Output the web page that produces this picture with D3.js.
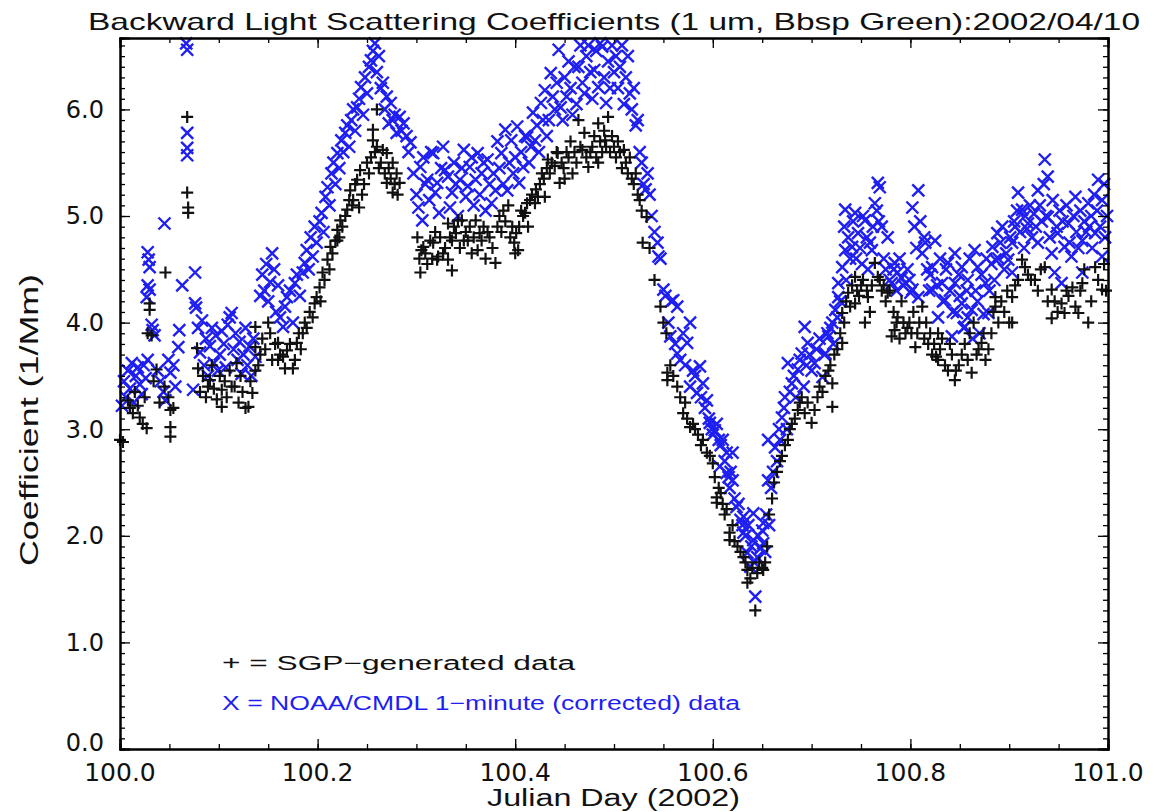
<!DOCTYPE html>
<html>
<head>
<meta charset="utf-8">
<script src="https://cdn.jsdelivr.net/npm/d3@7"></script>
<style>
  body { margin: 0; background: #fff; }
  svg text { font-family: "Liberation Sans", Arial, sans-serif; }
</style>
</head>
<body>
<div class="bbsp_chart"></div>
<script>

// day offsets from 100.0, coefficient in 1/Mm
var noaaPoints = [
  [0.002,3.22],[0.004,3.45],[0.006,3.3],[0.008,3.55],[0.010,3.38],[0.012,3.62],[0.014,3.25],[0.016,3.5],[0.018,3.58],[0.020,3.42],
  [0.022,3.33],[0.024,3.6],[0.026,3.48],[0.028,3.65],[0.028,4.66],[0.029,4.59],[0.030,4.52],[0.028,4.35],[0.030,4.31],[0.027,4.24],
  [0.033,3.93],[0.035,3.88],[0.032,3.98],[0.045,4.93],[0.038,3.55],[0.041,3.45],[0.044,3.35],[0.046,3.27],[0.049,3.65],[0.051,3.53],
  [0.054,3.6],[0.056,3.4],[0.060,3.93],[0.059,3.77],[0.063,4.35],[0.067,6.62],[0.068,6.56],[0.068,5.78],[0.068,5.64],[0.068,5.57],
  [0.074,3.37],[0.076,4.47],[0.076,4.18],[0.077,4.14],
  [0.079,3.95],[0.081,3.72],[0.083,4.02],[0.085,3.6],[0.087,3.85],[0.089,3.5],[0.091,3.78],[0.093,3.95],[0.095,3.62],[0.097,3.88],
  [0.099,3.55],[0.101,3.7],[0.103,3.92],[0.105,3.8],[0.107,3.58],[0.109,3.98],[0.111,4.05],[0.113,4.09],[0.115,3.75],[0.117,3.9],
  [0.119,3.65],[0.121,3.82],[0.123,3.52],[0.125,3.7],[0.127,3.95],[0.129,3.6],[0.131,3.78],[0.133,3.5],[0.135,3.85],[0.137,3.68],
  [0.142,4.25],[0.144,4.45],[0.146,4.3],[0.148,4.55],[0.150,4.2],[0.152,4.38],[0.154,4.65],[0.156,4.5],[0.158,4.1],[0.160,4.35],
  [0.162,4.05],[0.165,3.96],[0.167,4.15],[0.169,4.24],[0.172,4.3],[0.175,4.0],[0.177,4.37],[0.179,4.45],[0.182,4.25],[0.185,4.47],
  [0.187,4.56],[0.189,4.68],[0.191,4.5],[0.193,4.8],[0.195,4.62],[0.197,4.9],[0.199,4.75],[0.202,4.95],[0.204,5.03],[0.206,4.85],
  [0.208,5.18],[0.210,5.27],[0.212,5.1],[0.214,5.4],[0.216,5.5],[0.218,5.3],[0.220,5.59],[0.222,5.45],[0.224,5.71],[0.226,5.6],
  [0.228,5.78],[0.230,5.85],[0.232,5.65],[0.234,5.9],[0.236,6.0],[0.238,5.8],[0.240,6.02],[0.242,6.1],[0.244,6.21],[0.246,5.95],
  [0.248,6.3],[0.250,6.15],[0.252,6.4],[0.254,6.46],[0.256,6.55],[0.258,6.62],[0.260,6.35],[0.262,6.5],
  [0.264,6.2],[0.266,6.25],[0.268,6.0],[0.270,6.12],[0.272,5.87],[0.274,6.06],[0.276,5.9],[0.278,5.95],[0.280,5.78],[0.283,5.93],
  [0.285,5.8],[0.287,5.87],[0.290,5.75],[0.292,5.6],[0.294,5.69],[0.297,5.4],
  [0.300,5.2],[0.302,5.08],[0.304,5.46],[0.306,4.96],[0.307,5.55],[0.309,5.3],[0.311,5.34],[0.313,5.15],[0.315,5.6],[0.317,5.59],
  [0.319,5.22],[0.321,5.31],[0.323,5.03],[0.325,5.45],[0.327,5.65],[0.329,5.43],
  [0.332,5.37],[0.334,5.08],[0.336,5.22],[0.338,5.5],[0.340,5.3],[0.342,5.0],[0.344,5.34],[0.346,5.45],[0.348,5.62],[0.350,5.18],
  [0.352,5.28],[0.354,5.46],[0.356,5.55],[0.358,5.1],[0.360,5.34],[0.362,5.59],[0.364,5.2],[0.366,5.4],[0.368,5.5],[0.370,5.05],
  [0.372,5.53],[0.374,5.3],[0.376,5.12],[0.378,5.4],[0.380,5.24],[0.382,5.7],[0.384,5.45],[0.386,5.59],[0.388,5.3],[0.390,5.81],
  [0.392,5.24],[0.394,5.5],[0.396,5.71],[0.398,5.4],[0.400,5.55],
  [0.402,5.84],[0.404,5.31],[0.406,5.6],[0.408,5.46],[0.410,5.75],[0.412,5.74],[0.414,5.5],[0.416,5.65],[0.418,5.97],[0.420,5.71],
  [0.422,5.85],[0.424,5.6],[0.426,6.06],[0.428,5.9],[0.430,6.18],[0.432,5.75],[0.434,5.9],[0.436,6.34],[0.438,6.12],[0.440,6.0],
  [0.442,6.25],[0.444,6.56],[0.446,6.02],[0.448,5.9],
  [0.450,6.3],[0.452,6.12],[0.454,6.45],[0.456,6.2],[0.458,5.95],[0.460,6.4],[0.462,6.05],[0.464,6.4],[0.466,6.6],[0.468,6.25],
  [0.470,6.15],[0.472,6.5],[0.474,6.6],[0.476,6.35],[0.478,6.1],[0.480,6.37],[0.482,6.55],[0.484,6.21],[0.486,6.62],[0.488,6.59],
  [0.490,6.3],[0.492,6.06],[0.494,6.45],[0.496,6.2],[0.498,6.6],[0.500,6.35],[0.502,6.5],[0.504,6.2],[0.506,6.4],[0.508,6.6],
  [0.510,6.05],[0.512,6.3],[0.514,6.5],[0.516,6.15],[0.518,6.0],[0.520,6.2],[0.522,5.85],[0.524,5.9],[0.526,5.6],[0.528,5.5],
  [0.530,5.3],[0.532,5.25],[0.534,5.4],[0.536,5.2],[0.538,5.0],
  [0.541,4.85],[0.544,4.75],[0.545,4.62],[0.547,4.6],[0.550,4.31],[0.552,4.25],[0.555,4.0],[0.557,3.87],[0.558,4.2],[0.560,4.21],
  [0.562,3.8],[0.564,4.15],[0.564,3.71],[0.567,3.65],[0.570,3.9],[0.572,3.6],[0.574,3.81],[0.577,4.0],[0.577,3.4],[0.580,3.55],
  [0.582,3.5],[0.584,3.34],[0.587,3.59],[0.588,3.3],[0.590,3.43],[0.592,3.2],[0.594,3.27],[0.596,3.1],[0.597,3.06],[0.599,3.0],
  [0.600,2.95],[0.602,2.99],[0.604,3.05],[0.606,2.9],[0.607,2.65],[0.608,2.85],[0.610,2.9],[0.612,2.7],[0.614,2.78],[0.614,2.59],
  [0.616,2.55],[0.617,2.45],[0.618,2.6],[0.620,2.52],[0.620,2.78],[0.622,2.35],[0.624,2.27],[0.626,2.3],[0.628,2.15],[0.630,2.1],
  [0.631,2.18],[0.631,2.03],[0.633,2.0],[0.635,1.84],[0.636,2.1],[0.638,1.71],[0.639,1.9],[0.641,2.21],[0.641,1.96],[0.642,1.75],
  [0.643,1.43],[0.645,1.8],[0.646,2.0],[0.648,1.88],[0.650,2.05],[0.651,2.12],[0.651,1.93],[0.653,1.85],[0.654,2.2],[0.656,2.52],
  [0.656,2.9],[0.657,2.1],[0.659,2.45],
  [0.661,2.6],[0.663,2.83],[0.665,2.7],[0.667,3.0],[0.668,2.9],[0.670,3.11],[0.672,3.2],[0.673,3.3],[0.675,3.0],[0.676,3.62],
  [0.678,3.35],[0.680,3.43],[0.682,3.5],[0.684,3.3],[0.686,3.56],[0.688,3.65],[0.690,3.71],[0.692,3.4],[0.693,3.96],[0.695,3.6],
  [0.696,3.81],[0.698,3.7],[0.700,3.55],[0.703,3.62],[0.705,3.75],[0.708,3.85],[0.711,3.49],[0.713,3.7],[0.714,3.71],[0.716,3.9],
  [0.717,3.87],[0.719,3.95],[0.721,4.0],[0.722,3.8],[0.724,4.12],[0.726,4.05],[0.727,4.24],[0.727,4.37],[0.729,4.2],[0.731,4.52],
  [0.733,4.9],[0.734,4.68],[0.734,5.06],[0.735,4.4],[0.737,4.8],[0.739,4.6],[0.741,4.71],[0.742,4.95],[0.744,5.03],[0.745,4.6],
  [0.747,4.84],[0.749,4.7],[0.751,4.55],[0.752,5.0],[0.754,4.96],[0.756,4.8],[0.757,4.5],[0.759,4.75],[0.761,4.68],[0.762,4.9],
  [0.764,5.12],[0.766,5.05],[0.767,5.31],[0.768,4.95],[0.769,5.27],[0.771,4.9],[0.773,4.6],[0.775,4.5],[0.777,4.8],[0.779,4.4],
  [0.781,4.37],[0.783,4.5],[0.784,4.56],[0.786,4.3],[0.787,4.47],[0.789,4.6],[0.791,4.42],[0.793,4.35],[0.795,4.37],[0.797,4.5],
  [0.799,4.4],[0.800,4.28],[0.802,4.31],[0.802,5.08],[0.804,4.9],[0.806,4.7],[0.808,5.24],[0.808,4.24],[0.810,4.95],[0.812,4.65],
  [0.814,4.8],[0.815,4.75],[0.817,4.5],[0.819,4.3],[0.820,4.45],[0.822,4.52],[0.822,4.31],
  [0.825,4.77],[0.827,4.35],[0.828,4.05],[0.830,4.6],[0.832,4.37],[0.833,4.2],[0.835,4.21],[0.836,4.5],[0.838,4.56],[0.840,4.3],
  [0.842,3.87],[0.843,4.1],[0.845,4.65],[0.845,4.37],[0.847,4.09],[0.849,4.45],[0.850,4.25],[0.852,4.52],[0.852,4.18],[0.854,3.95],
  [0.855,3.96],[0.857,4.3],[0.858,4.4],[0.858,4.05],[0.860,4.6],[0.862,4.12],[0.863,3.85],[0.865,4.68],[0.866,4.3],[0.868,4.52],
  [0.868,4.2],[0.870,3.9],[0.872,4.45],[0.874,4.08],[0.876,4.37],[0.877,4.6],[0.879,4.09],[0.880,4.3],[0.882,4.55],[0.883,4.71],
  [0.885,4.4],[0.886,4.59],[0.888,4.84],[0.889,4.6],
  [0.891,4.75],[0.893,4.9],[0.895,4.5],[0.897,4.65],[0.899,4.59],[0.901,4.8],[0.903,4.75],[0.903,4.47],[0.905,4.95],[0.906,4.9],
  [0.908,5.05],[0.909,5.22],[0.911,4.85],[0.913,5.06],[0.915,4.7],[0.916,5.0],[0.918,4.88],[0.919,4.93],[0.921,5.1],[0.923,4.8],
  [0.925,5.02],[0.927,4.9],[0.929,5.24],[0.929,4.75],[0.931,5.1],[0.933,4.95],[0.935,5.3],[0.936,5.53],[0.937,5.0],[0.939,5.37],
  [0.939,4.99],[0.941,4.8],[0.943,4.65],[0.944,5.15],[0.946,4.47],[0.948,4.9],[0.949,4.84],[0.951,5.05],[0.953,4.37],[0.954,4.95],
  [0.956,4.71],[0.958,5.1],[0.960,4.93],[0.961,4.75],[0.963,4.62],[0.965,5.0],[0.967,5.18],[0.968,4.85],[0.970,4.7],[0.972,5.05],
  [0.974,4.77],[0.974,4.47],[0.976,4.95],[0.978,4.85],[0.980,5.12],[0.981,4.9],[0.983,5.0],[0.984,4.7],[0.986,5.2],[0.987,4.84],
  [0.989,5.05],[0.990,5.34],[0.992,4.9],[0.994,5.15],[0.994,4.62],[0.996,5.3],[0.997,4.8],[0.999,5.0]
];

var sgpPoints = [
  [0.000,2.9],[0.003,2.88],[0.008,3.27],[0.010,3.2],[0.013,3.15],[0.015,3.35],[0.018,3.22],[0.020,3.11],[0.023,3.05],[0.025,3.3],
  [0.027,3.01],[0.028,3.9],[0.030,4.18],[0.030,4.12],[0.032,3.88],[0.034,3.45],[0.037,3.56],[0.040,3.25],[0.045,3.4],[0.046,4.47],
  [0.049,3.3],[0.051,3.18],[0.051,3.02],[0.051,2.93],[0.054,3.2],[0.068,5.93],[0.068,5.22],[0.069,5.08],[0.069,5.03],[0.078,3.76],
  [0.079,3.57],
  [0.081,3.35],[0.084,3.5],[0.087,3.3],[0.089,3.4],[0.091,3.46],[0.093,3.6],[0.095,3.38],[0.098,3.28],[0.101,3.5],[0.103,3.37],
  [0.103,3.21],[0.106,3.45],[0.108,3.3],[0.111,3.55],[0.113,3.4],[0.116,3.4],[0.118,3.62],[0.120,3.25],[0.122,3.5],[0.124,3.35],
  [0.127,3.2],[0.130,3.21],[0.132,3.45],[0.134,3.34],[0.137,3.55],[0.137,3.96],[0.137,3.77],[0.140,3.6],
  [0.142,3.7],[0.144,3.85],[0.147,3.75],[0.150,4.0],[0.152,3.9],[0.154,3.65],[0.157,3.8],[0.160,3.81],[0.160,3.65],[0.162,3.7],
  [0.165,3.68],[0.167,3.57],[0.169,3.74],[0.172,3.8],[0.175,3.57],[0.177,3.65],[0.179,3.81],[0.181,3.9],[0.183,3.75],[0.185,3.9],
  [0.187,4.0],[0.189,3.95],[0.192,4.1],[0.195,4.05],[0.197,4.18],[0.199,4.24],[0.202,4.33],[0.203,4.2],[0.205,4.47],[0.207,4.4],
  [0.210,4.59],[0.212,4.5],[0.213,4.71],[0.215,4.65],[0.218,4.77],[0.220,4.87],[0.220,4.77],[0.222,4.8],[0.223,4.96],[0.225,4.9],
  [0.228,5.0],[0.230,5.06],[0.232,5.15],[0.233,5.24],[0.235,5.1],[0.236,5.15],[0.238,5.3],[0.240,5.34],[0.242,5.08],[0.243,5.43],
  [0.245,5.2],[0.247,5.3],[0.250,5.5],[0.252,5.4],[0.254,5.55],[0.256,5.81],[0.256,5.71],[0.258,5.6],[0.260,6.0],[0.260,5.65],
  [0.262,5.45],[0.264,5.5],[0.266,5.62],[0.268,5.4],[0.270,5.59],[0.270,5.31],[0.272,5.45],[0.274,5.35],[0.276,5.5],[0.276,5.22],
  [0.278,5.3],[0.280,5.4],[0.281,5.2],[0.283,5.31],
  [0.301,4.8],[0.303,4.6],[0.304,4.47],[0.305,4.68],[0.307,4.71],[0.309,4.65],[0.311,4.55],[0.314,4.77],[0.316,4.6],[0.317,4.75],
  [0.319,4.85],[0.321,4.59],[0.322,4.62],[0.324,4.8],[0.327,4.65],[0.329,4.7],
  [0.332,4.93],[0.332,4.59],[0.334,4.8],[0.336,4.77],[0.336,4.49],[0.338,4.9],[0.340,4.84],[0.342,4.96],[0.344,4.7],[0.346,4.96],
  [0.348,4.77],[0.350,4.85],[0.352,4.77],[0.354,4.9],[0.356,4.65],[0.358,4.8],[0.360,4.96],[0.362,4.68],[0.364,4.84],[0.366,4.77],
  [0.368,4.9],[0.370,4.6],[0.372,4.85],[0.374,4.8],[0.377,4.7],[0.380,4.56],[0.382,4.9],[0.384,5.0],[0.386,4.85],[0.388,5.05],
  [0.390,4.95],[0.393,5.1],[0.395,4.8],[0.397,4.9],[0.399,4.75],[0.400,4.65],[0.401,4.84],[0.403,4.68],[0.404,4.9],[0.406,5.05],
  [0.408,5.0],[0.410,5.03],[0.412,5.12],[0.413,4.9],[0.415,5.15],[0.417,5.2],[0.420,5.12],[0.421,5.25],[0.423,5.18],[0.425,5.3],
  [0.427,5.4],[0.429,5.35],[0.430,5.18],[0.432,5.45],[0.433,5.53],[0.435,5.4],[0.437,5.5],[0.440,5.47],[0.442,5.6],[0.443,5.59],
  [0.445,5.31],[0.447,5.5],[0.449,5.45],[0.450,5.35],[0.452,5.6],[0.454,5.55],[0.456,5.7],[0.458,5.4],[0.460,5.6],[0.462,5.5],
  [0.464,5.9],[0.466,5.65],[0.468,5.62],[0.470,5.78],[0.472,5.55],[0.474,5.46],[0.476,5.6],[0.478,5.65],[0.480,5.75],[0.482,5.55],
  [0.484,5.87],[0.484,5.5],[0.486,5.7],[0.488,5.6],[0.490,5.8],[0.491,5.71],[0.492,5.65],[0.494,5.93],[0.496,5.6],[0.498,5.75],
  [0.500,5.65],[0.502,5.55],[0.504,5.7],[0.506,5.6],[0.508,5.45],[0.510,5.62],[0.512,5.5],[0.514,5.4],[0.516,5.55],[0.518,5.35],
  [0.520,5.3],[0.522,5.4],[0.524,5.2],[0.526,5.15],[0.528,5.05],
  [0.529,4.75],[0.533,4.99],[0.536,4.7],[0.541,4.4],[0.547,4.15],[0.550,4.0],[0.553,3.9],[0.554,3.53],[0.554,3.46],[0.557,3.6],
  [0.560,3.5],[0.564,3.4],[0.567,3.3],[0.570,3.15],[0.572,3.25],[0.574,3.1],[0.577,3.02],[0.580,3.05],[0.582,3.0],[0.585,2.95],
  [0.588,2.85],[0.590,2.9],[0.594,2.78],[0.597,2.75],[0.600,2.68],[0.602,2.55],[0.604,2.36],[0.604,2.31],[0.606,2.45],[0.608,2.4],
  [0.610,2.3],[0.612,2.2],[0.614,2.25],[0.617,2.03],[0.617,1.96],[0.620,2.1],[0.622,1.95],[0.625,1.9],[0.628,1.85],[0.631,1.8],
  [0.633,1.75],[0.635,1.68],[0.635,1.56],[0.638,1.6],[0.640,1.7],[0.643,1.3],[0.645,1.65],[0.647,1.75],[0.650,1.7],[0.651,1.68],
  [0.653,1.75],[0.655,1.9],[0.657,2.2],[0.660,2.35],[0.662,2.5],[0.665,2.6],[0.668,2.7],[0.670,2.75],[0.673,2.85],[0.676,2.9],
  [0.678,3.0],[0.680,3.05],[0.683,3.1],[0.686,3.18],[0.688,3.25],[0.690,3.3],[0.693,3.15],[0.696,3.25],[0.700,3.06],[0.703,3.18],
  [0.706,3.3],[0.708,3.4],[0.711,3.35],[0.714,3.5],[0.717,3.55],[0.719,3.6],[0.721,3.21],[0.721,3.43],[0.723,3.7],[0.726,3.75],
  [0.729,3.9],[0.731,3.81],[0.731,4.09],[0.733,4.0],[0.735,4.2],[0.737,4.28],[0.739,4.15],[0.741,4.35],[0.744,4.43],[0.744,4.18],
  [0.746,4.3],[0.748,4.25],[0.750,4.35],[0.752,4.4],[0.754,4.0],[0.756,4.3],[0.757,4.24],[0.759,4.1],[0.761,4.35],[0.764,4.56],
  [0.767,4.43],[0.769,4.4],[0.771,4.3],[0.773,4.35],[0.775,4.2],[0.777,4.28],[0.779,4.3],[0.781,3.87],[0.783,4.1],[0.784,3.93],
  [0.786,4.0],[0.787,4.05],[0.789,3.85],[0.791,4.2],[0.793,4.0],[0.795,3.9],[0.797,3.95],[0.799,4.0],[0.801,3.9],[0.803,4.1],
  [0.805,3.77],[0.807,3.9],[0.809,4.0],[0.812,4.15],[0.814,3.85],[0.816,4.0],[0.818,3.8],[0.820,3.9],[0.822,3.7],[0.824,3.8],
  [0.826,3.68],[0.828,3.9],[0.828,3.65],[0.830,3.75],[0.832,3.85],[0.835,3.6],[0.838,3.55],[0.840,3.8],[0.842,3.7],[0.845,3.46],
  [0.846,3.55],[0.849,3.6],[0.852,3.7],[0.855,3.8],[0.858,3.65],[0.860,3.9],[0.862,3.53],[0.864,4.0],[0.867,3.7],[0.869,3.75],
  [0.872,3.81],[0.874,3.9],[0.876,3.65],[0.879,3.75],[0.882,3.9],[0.884,4.1],[0.886,4.24],[0.886,4.15],[0.889,4.0],[0.892,4.2],
  [0.895,4.1],[0.898,4.3],[0.900,4.0],[0.903,4.24],[0.903,4.0],[0.906,4.35],[0.909,4.4],[0.913,4.59],[0.916,4.52],[0.919,4.45],
  [0.922,4.4],[0.926,4.4],[0.929,4.3],[0.932,4.5],[0.936,4.52],[0.939,4.2],[0.943,4.31],[0.943,4.04],[0.946,4.2],[0.949,4.1],
  [0.953,4.18],[0.956,4.09],[0.958,4.3],[0.960,4.25],[0.964,4.33],[0.967,4.15],[0.970,4.09],[0.972,4.3],[0.974,4.37],[0.976,4.5],
  [0.980,4.0],[0.983,4.2],[0.987,4.52],[0.990,4.4],[0.994,4.31],[0.996,4.55],[0.998,4.3]
];

var dayStart = 100.0;
var xTickValues = [100.0, 100.2, 100.4, 100.6, 100.8, 101.0];
var yTickValues = [0, 1, 2, 3, 4, 5, 6];

var chartTitle = "Backward Light Scattering Coefficients (1 um, Bbsp Green):2002/04/10";
var xTitle = "Julian Day (2002)";
var yTitle = "Coefficient (1/Mm)";
var legendSgp = "+ = SGP\u2212generated data";
var legendNoaa = "X = NOAA/CMDL 1\u2212minute (corrected) data";


function drawBbspChart(target) {

    var div_width = 1153;
    var div_height = 812;
    var left = 120, right = 1108, top = 38, bottom = 749;
    var blue = "#1f1ff2";

    var svg = d3.select(target).append("svg")
        .attr("width", div_width)
        .attr("height", div_height);

    var x = d3.scaleLinear().domain([100.0, 101.0]).range([left, right]);
    var y = d3.scaleLinear().domain([0, 6.67]).range([bottom, top]);

    // data first, frame on top
    var plot = svg.append("g");

    plot.selectAll(".noaa").data(noaaPoints).enter().append("path")
        .attr("class", "noaa")
        .attr("transform", function (d) { return "translate(" + x(dayStart + d[0]) + "," + y(d[1]) + ")"; })
        .attr("d", "M-6,-6L6,6M-6,6L6,-6")
        .attr("stroke", blue)
        .attr("stroke-width", 2.4)
        .attr("fill", "none");

    plot.selectAll(".sgp").data(sgpPoints).enter().append("path")
        .attr("class", "sgp")
        .attr("transform", function (d) { return "translate(" + x(dayStart + d[0]) + "," + y(d[1]) + ")"; })
        .attr("d", "M-6,0H6M0,-6V6")
        .attr("stroke", "#111")
        .attr("stroke-width", 2.2)
        .attr("fill", "none");

    // frame with inward ticks (IDL style)
    var xMinor = d3.range(0, 21).map(function (i) { return 100 + i * 0.05; });
    var yMinor = d3.range(0, 67).map(function (i) { return i * 0.1; });

    svg.append("g").attr("transform", "translate(0," + bottom + ")")
        .call(d3.axisTop(x).tickValues(xMinor).tickSize(5).tickFormat(""));
    svg.append("g").attr("transform", "translate(0," + bottom + ")")
        .call(d3.axisTop(x).tickValues(xTickValues).tickSize(10).tickFormat(""));
    svg.append("g").attr("transform", "translate(0," + top + ")")
        .call(d3.axisBottom(x).tickValues(xMinor).tickSize(5).tickFormat(""));
    svg.append("g").attr("transform", "translate(0," + top + ")")
        .call(d3.axisBottom(x).tickValues(xTickValues).tickSize(10).tickFormat(""));

    svg.append("g").attr("transform", "translate(" + left + ",0)")
        .call(d3.axisRight(y).tickValues(yMinor).tickSize(5).tickFormat(""));
    svg.append("g").attr("transform", "translate(" + left + ",0)")
        .call(d3.axisRight(y).tickValues(yTickValues).tickSize(10).tickFormat(""));
    svg.append("g").attr("transform", "translate(" + right + ",0)")
        .call(d3.axisLeft(y).tickValues(yMinor).tickSize(5).tickFormat(""));
    svg.append("g").attr("transform", "translate(" + right + ",0)")
        .call(d3.axisLeft(y).tickValues(yTickValues).tickSize(10).tickFormat(""));

    svg.selectAll(".domain").attr("stroke", "#000").attr("stroke-width", 2);
    svg.selectAll(".tick line").attr("stroke", "#000").attr("stroke-width", 1.3);

    // tick labels
    svg.append("g").selectAll("text").data(xTickValues).enter().append("text")
        .attr("x", function (d) { return x(d); })
        .attr("y", 781)
        .attr("text-anchor", "middle")
        .style("font-family", "DejaVu Sans")
        .style("font-size", "25px")
        .attr("fill", "#111")
        .text(d3.format(".1f"));

    svg.append("g").selectAll("text").data(yTickValues).enter().append("text")
        .attr("x", 104)
        .attr("y", function (d) { return d == 0 ? y(d) - 6 : y(d); })
        .attr("dy", "0.35em")
        .attr("text-anchor", "end")
        .style("font-family", "DejaVu Sans")
        .style("font-size", "24px")
        .attr("fill", "#111")
        .text(d3.format(".1f"));

    // titles
    svg.append("text")
        .attr("x", 88).attr("y", 30)
        .attr("textLength", 1052).attr("lengthAdjust", "spacingAndGlyphs")
        .style("font-size", "24px")
        .attr("fill", "#111")
        .text(chartTitle);

    svg.append("text")
        .attr("x", 487).attr("y", 806)
        .attr("textLength", 253).attr("lengthAdjust", "spacingAndGlyphs")
        .style("font-size", "23px")
        .attr("fill", "#111")
        .text(xTitle);

    svg.append("text")
        .attr("transform", "translate(38,566) rotate(-90)")
        .attr("textLength", 292).attr("lengthAdjust", "spacingAndGlyphs")
        .style("font-size", "25px")
        .attr("fill", "#111")
        .text(yTitle);

    // legend
    svg.append("text")
        .attr("x", 222).attr("y", 670)
        .attr("textLength", 353).attr("lengthAdjust", "spacingAndGlyphs")
        .style("font-size", "20px")
        .attr("fill", "#111")
        .text(legendSgp);

    svg.append("text")
        .attr("x", 222).attr("y", 710)
        .attr("textLength", 518).attr("lengthAdjust", "spacingAndGlyphs")
        .style("font-size", "20px")
        .attr("fill", blue)
        .text(legendNoaa);
}

drawBbspChart(".bbsp_chart");
</script>
</body>
</html>
